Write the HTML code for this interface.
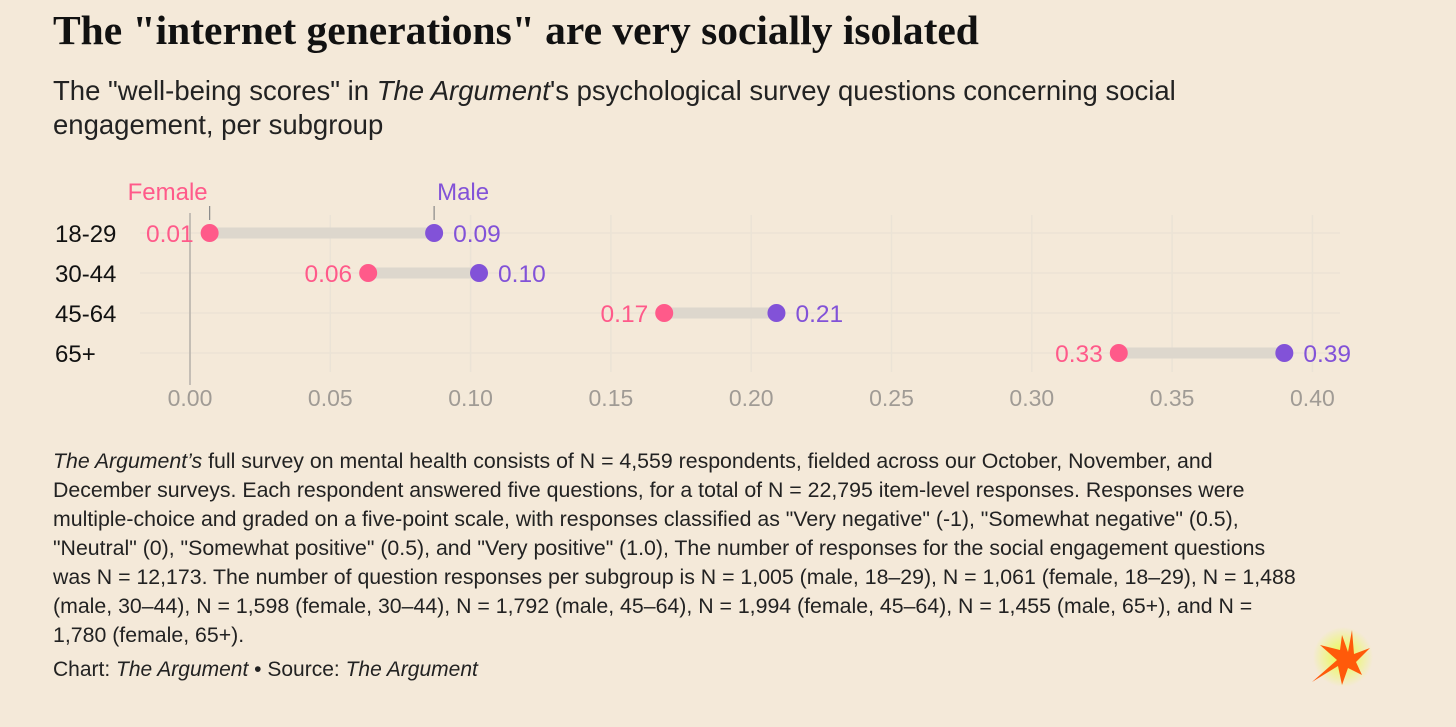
<!DOCTYPE html>
<html><head><meta charset="utf-8"><style>
body{margin:0;width:1456px;height:727px;background:#f4e9d9;font-family:"Liberation Sans",sans-serif;color:#111;position:relative;overflow:hidden}
h1{position:absolute;left:53px;top:6px;margin:0;font-family:"Liberation Serif",serif;font-weight:bold;font-size:41.5px;letter-spacing:0px;white-space:nowrap}
.sub{position:absolute;left:53px;top:74px;width:1210px;font-size:27.5px;line-height:34px;color:#222}
.note{position:absolute;left:53px;top:447px;width:1250px;font-size:21.3px;line-height:29px;color:#222}
.src{position:absolute;left:53px;top:658px;font-size:21px;color:#222}
svg{position:absolute;left:0;top:0}
</style></head><body>
<h1>The "internet generations" are very socially isolated</h1>
<div class="sub">The "well-being scores" in <i>The Argument</i>'s psychological survey questions concerning social engagement, per subgroup</div>
<svg id="chart" width="1456" height="727"></svg>
<div class="note"><i>The Argument’s</i> full survey on mental health consists of N = 4,559 respondents, fielded across our October, November, and December surveys. Each respondent answered five questions, for a total of N = 22,795 item-level responses. Responses were multiple-choice and graded on a five-point scale, with responses classified as "Very negative" (-1), "Somewhat negative" (0.5), "Neutral" (0), "Somewhat positive" (0.5), and "Very positive" (1.0), The number of responses for the social engagement questions was N = 12,173. The number of question responses per subgroup is N = 1,005 (male, 18–29), N = 1,061 (female, 18–29), N = 1,488 (male, 30–44), N = 1,598 (female, 30–44), N = 1,792 (male, 45–64), N = 1,994 (female, 45–64), N = 1,455 (male, 65+), and N = 1,780 (female, 65+).</div>
<div class="src">Chart: <i>The Argument</i> • Source: <i>The Argument</i></div>
<svg width="1456" height="727" style="pointer-events:none">
<defs><radialGradient id="g"><stop offset="0" stop-color="#e8ff40"/><stop offset="1" stop-color="#e8ff40" stop-opacity="0"/></radialGradient></defs>
<circle cx="1343" cy="657" r="30" fill="url(#g)"/>
<polygon fill="#ff5a0a" points="1312,682 1337,660 1320,645 1340,650 1342,635 1348,652 1352,630 1354,654 1370,648 1356,662 1362,675 1348,668 1342,685 1338,666"/>
</svg>
<script>
const categories=["18-29","30-44","45-64","65+"];
const femaleValues=[0.007,0.0635,0.169,0.331];
const maleValues=[0.087,0.103,0.209,0.390];
const ticks=[0,0.05,0.1,0.15,0.2,0.25,0.3,0.35,0.4];
const NS="http://www.w3.org/2000/svg";
const svg=document.getElementById('chart');
const x=v=>190+v*2806;
const y=i=>233+i*40;
function mk(t,a,txt){const e=document.createElementNS(NS,t);for(const k in a)e.setAttribute(k,a[k]);if(txt!=null)e.textContent=txt;svg.appendChild(e);return e;}
const F='"Liberation Sans",sans-serif';
ticks.forEach(t=>{
 const l=mk('line',{x1:x(t),x2:x(t),y1:215,y2:372,stroke:'#ebe3d6','stroke-width':1.5});
 
 
 const tx=mk('text',{x:x(t),y:406,'text-anchor':'middle','font-size':23,fill:'#a09b95','font-family':F},t.toFixed(2));
 
 
});
categories.forEach((c,i)=>{
 const g=mk('line',{x1:140,x2:1340,y1:y(i),y2:y(i),stroke:'#ebe3d6','stroke-width':1.5});
 
 
});
const z=mk('line',{x1:x(0),x2:x(0),y1:213,y2:385,stroke:'#b5b0aa','stroke-width':1.5});


categories.forEach((c,i)=>{
 const cy=y(i),fx=x(femaleValues[i]),mx=x(maleValues[i]);
 const lb=mk('text',{x:55,y:cy+9,'font-size':24,fill:'#111','font-family':F},c);
 
 
 const b=mk('line',{x1:fx,x2:mx,y1:cy,y2:cy,stroke:'#ddd7cd','stroke-width':11});
 
 
 const fd=mk('circle',{cx:fx,cy:cy,r:9,fill:'#ff5a8a'});
 
 
 const md=mk('circle',{cx:mx,cy:cy,r:9,fill:'#8252d8'});
 
 
 const fl=mk('text',{x:fx-16,y:cy+9,'text-anchor':'end','font-size':24.5,fill:'#ff5a8a','font-family':F},femaleValues[i].toFixed(2));
 
 
 const ml=mk('text',{x:mx+19,y:cy+9,'font-size':24.5,fill:'#8252d8','font-family':F},maleValues[i].toFixed(2));
 
 
});
const f0=x(femaleValues[0]),m0=x(maleValues[0]);
const lf=mk('text',{x:f0-42,y:200,'text-anchor':'middle','font-size':24,fill:'#ff5a8a','font-family':F},'Female');


const lm=mk('text',{x:m0+29,y:200,'text-anchor':'middle','font-size':24,fill:'#8252d8','font-family':F},'Male');


[f0,m0].forEach(px=>{const t=mk('line',{x1:px,x2:px,y1:206,y2:220,stroke:'#888','stroke-width':1.2});
 
 });
</script>
</body></html>
